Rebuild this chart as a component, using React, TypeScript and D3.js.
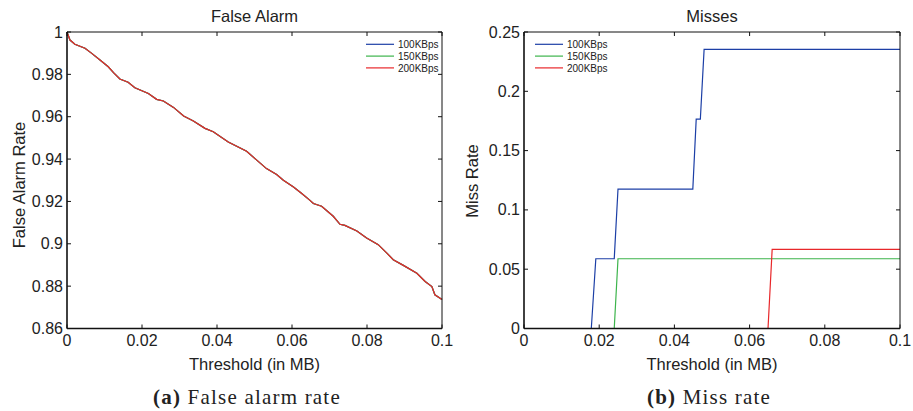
import React from "react";
import * as d3 from "d3";

const xTicks = [0, 0.02, 0.04, 0.06, 0.08, 0.1];
const xTickLabels = ["0", "0.02", "0.04", "0.06", "0.08", "0.1"];
const faTicks = [0.86, 0.88, 0.9, 0.92, 0.94, 0.96, 0.98, 1];
const faTickLabels = ["0.86", "0.88", "0.9", "0.92", "0.94", "0.96", "0.98", "1"];
const missTicks = [0, 0.05, 0.1, 0.15, 0.2, 0.25];
const missTickLabels = ["0", "0.05", "0.1", "0.15", "0.2", "0.25"];
const seriesNames = ["100KBps", "150KBps", "200KBps"];
const seriesColors = ["#1c3fa6", "#3cb44b", "#e8272a"];

// False alarm rate (identical for all three rates)
const faThreshold = [0, 0.0008, 0.0021, 0.0048, 0.0066, 0.0088, 0.011, 0.0124, 0.0141, 0.0163, 0.0181, 0.0217, 0.0239, 0.0257, 0.0284, 0.0311, 0.0337, 0.0368, 0.039, 0.043, 0.0479, 0.0506, 0.0532, 0.0559, 0.0577, 0.0604, 0.0626, 0.0648, 0.0657, 0.0679, 0.071, 0.0728, 0.0741, 0.0773, 0.0799, 0.083, 0.0853, 0.087, 0.0897, 0.0933, 0.0955, 0.0973, 0.0981, 0.1];
const faRate = [1, 0.9962, 0.9942, 0.9923, 0.9899, 0.9868, 0.9836, 0.9808, 0.9778, 0.9763, 0.9737, 0.971, 0.9682, 0.9674, 0.9644, 0.9603, 0.958, 0.9545, 0.9529, 0.9481, 0.9437, 0.9395, 0.9355, 0.9327, 0.93, 0.9268, 0.9237, 0.9205, 0.919, 0.9177, 0.913, 0.9092, 0.9087, 0.906, 0.9027, 0.8996, 0.8956, 0.8925, 0.8898, 0.8861, 0.8822, 0.8798, 0.8759, 0.8737];

// Miss rate
const miss100T = [0, 0.0179, 0.0191, 0.024, 0.025, 0.0449, 0.0458, 0.0469, 0.0479, 0.1];
const miss100V = [0, 0, 0.0588, 0.0588, 0.1176, 0.1176, 0.1765, 0.1765, 0.2353, 0.2353];
const miss150T = [0, 0.024, 0.025, 0.1];
const miss150V = [0, 0, 0.0588, 0.0588];
const miss200T = [0, 0.0649, 0.066, 0.1];
const miss200V = [0, 0, 0.0667, 0.0667];

const SANS = "'Liberation Sans', Arial, Helvetica, sans-serif";
const SERIF = "'Liberation Serif', 'Times New Roman', serif";

type Series = { t: number[]; v: number[]; color: string };

function Panel(props: {
  x0: number; x1: number; y0: number; y1: number;
  yDomain: [number, number]; yTicks: number[]; yTickLabels: string[];
  title: string; yLabel: string; yLabelY: number; yLabelX: number;
  caption: string; captionRest: string; captionX: number;
  series: Series[]; legendLineX: number;
}) {
  const { x0, x1, y0, y1 } = props;
  const xs = d3.scaleLinear().domain([0, 0.1]).range([x0, x1]);
  const ys = d3.scaleLinear().domain(props.yDomain).range([y1, y0]);
  const line = d3.line<[number, number]>().x((d) => xs(d[0])).y((d) => ys(d[1]));
  const tl = 4;
  const cx = (x0 + x1) / 2;
  return (
    <g>
      <text x={cx} y={21.5} textAnchor="middle" fontFamily={SANS} fontSize={16.5} fill="#222">{props.title}</text>
      {props.series.map((s, i) => (
        <path key={i} d={line(s.t.map((t, j) => [t, s.v[j]] as [number, number])) || ""} fill="none" stroke={s.color} strokeWidth={1.2} />
      ))}
      {/* box */}
      <line x1={x0} x2={x1} y1={y0} y2={y0} stroke="#111" strokeWidth={1} />
      <line x1={x1} x2={x1} y1={y0} y2={y1} stroke="#111" strokeWidth={1} />
      <line x1={x0} x2={x1} y1={y1} y2={y1} stroke="#111" strokeWidth={1.6} />
      <line x1={x0} x2={x0} y1={y0} y2={y1} stroke="#111" strokeWidth={1.6} />
      {xTicks.map((t, i) => (
        <g key={"x" + i}>
          <line x1={xs(t)} x2={xs(t)} y1={y1} y2={y1 - tl} stroke="#111" />
          <line x1={xs(t)} x2={xs(t)} y1={y0} y2={y0 + tl} stroke="#111" />
          <text x={xs(t)} y={y1 + 17} textAnchor="middle" fontFamily={SANS} fontSize={16} fill="#222">{xTickLabels[i]}</text>
        </g>
      ))}
      {props.yTicks.map((t, i) => (
        <g key={"y" + i}>
          <line x1={x0} x2={x0 + tl} y1={ys(t)} y2={ys(t)} stroke="#111" />
          <line x1={x1} x2={x1 - tl} y1={ys(t)} y2={ys(t)} stroke="#111" />
          <text x={x0 - 4} y={ys(t) + 5.5} textAnchor="end" fontFamily={SANS} fontSize={16} fill="#222">{props.yTickLabels[i]}</text>
        </g>
      ))}
      <text x={cx} y={370} textAnchor="middle" fontFamily={SANS} fontSize={16.5} fill="#222">Threshold (in MB)</text>
      <text transform={`translate(${props.yLabelX},${props.yLabelY}) rotate(-90)`} textAnchor="middle" fontFamily={SANS} fontSize={16.5} fill="#222">{props.yLabel}</text>
      <text x={props.captionX} y={404} textAnchor="middle" fontFamily={SERIF} fontSize={21} letterSpacing={1.2} fill="#222">
        <tspan fontWeight="bold">{props.caption}</tspan>
        <tspan> {props.captionRest}</tspan>
      </text>
      {seriesNames.map((n, i) => (
        <g key={"l" + i}>
          <line x1={props.legendLineX} x2={props.legendLineX + 28} y1={44.3 + i * 11.8} y2={44.3 + i * 11.8} stroke={seriesColors[i]} strokeWidth={1.2} />
          <text x={props.legendLineX + 32} y={44.3 + i * 11.8 + 3.6} fontFamily={SANS} fontSize={10} fill="#222">{n}</text>
        </g>
      ))}
    </g>
  );
}

export default function App() {
  const faSeries: Series[] = seriesColors.map((c) => ({ t: faThreshold, v: faRate, color: c }));
  const missSeries: Series[] = [
    { t: miss100T, v: miss100V, color: seriesColors[0] },
    { t: miss150T, v: miss150V, color: seriesColors[1] },
    { t: miss200T, v: miss200V, color: seriesColors[2] },
  ];
  return (
    <svg width={913} height={411} style={{ position: "absolute", left: 0, top: 0, background: "#fff" }}>
      <rect width={913} height={411} fill="#fff" />
      <Panel x0={67} x1={442} y0={32} y1={328.5} yDomain={[0.86, 1]} yTicks={faTicks} yTickLabels={faTickLabels}
        title="False Alarm" yLabel="False Alarm Rate" yLabelX={24.5} yLabelY={185} caption="(a)" captionRest="False alarm rate"
        captionX={247} series={faSeries} legendLineX={366} />
      <Panel x0={524} x1={900} y0={32} y1={328.5} yDomain={[0, 0.25]} yTicks={missTicks} yTickLabels={missTickLabels}
        title="Misses" yLabel="Miss Rate" yLabelX={478} yLabelY={181} caption="(b)" captionRest="Miss rate"
        captionX={709} series={missSeries} legendLineX={535} />
    </svg>
  );
}
